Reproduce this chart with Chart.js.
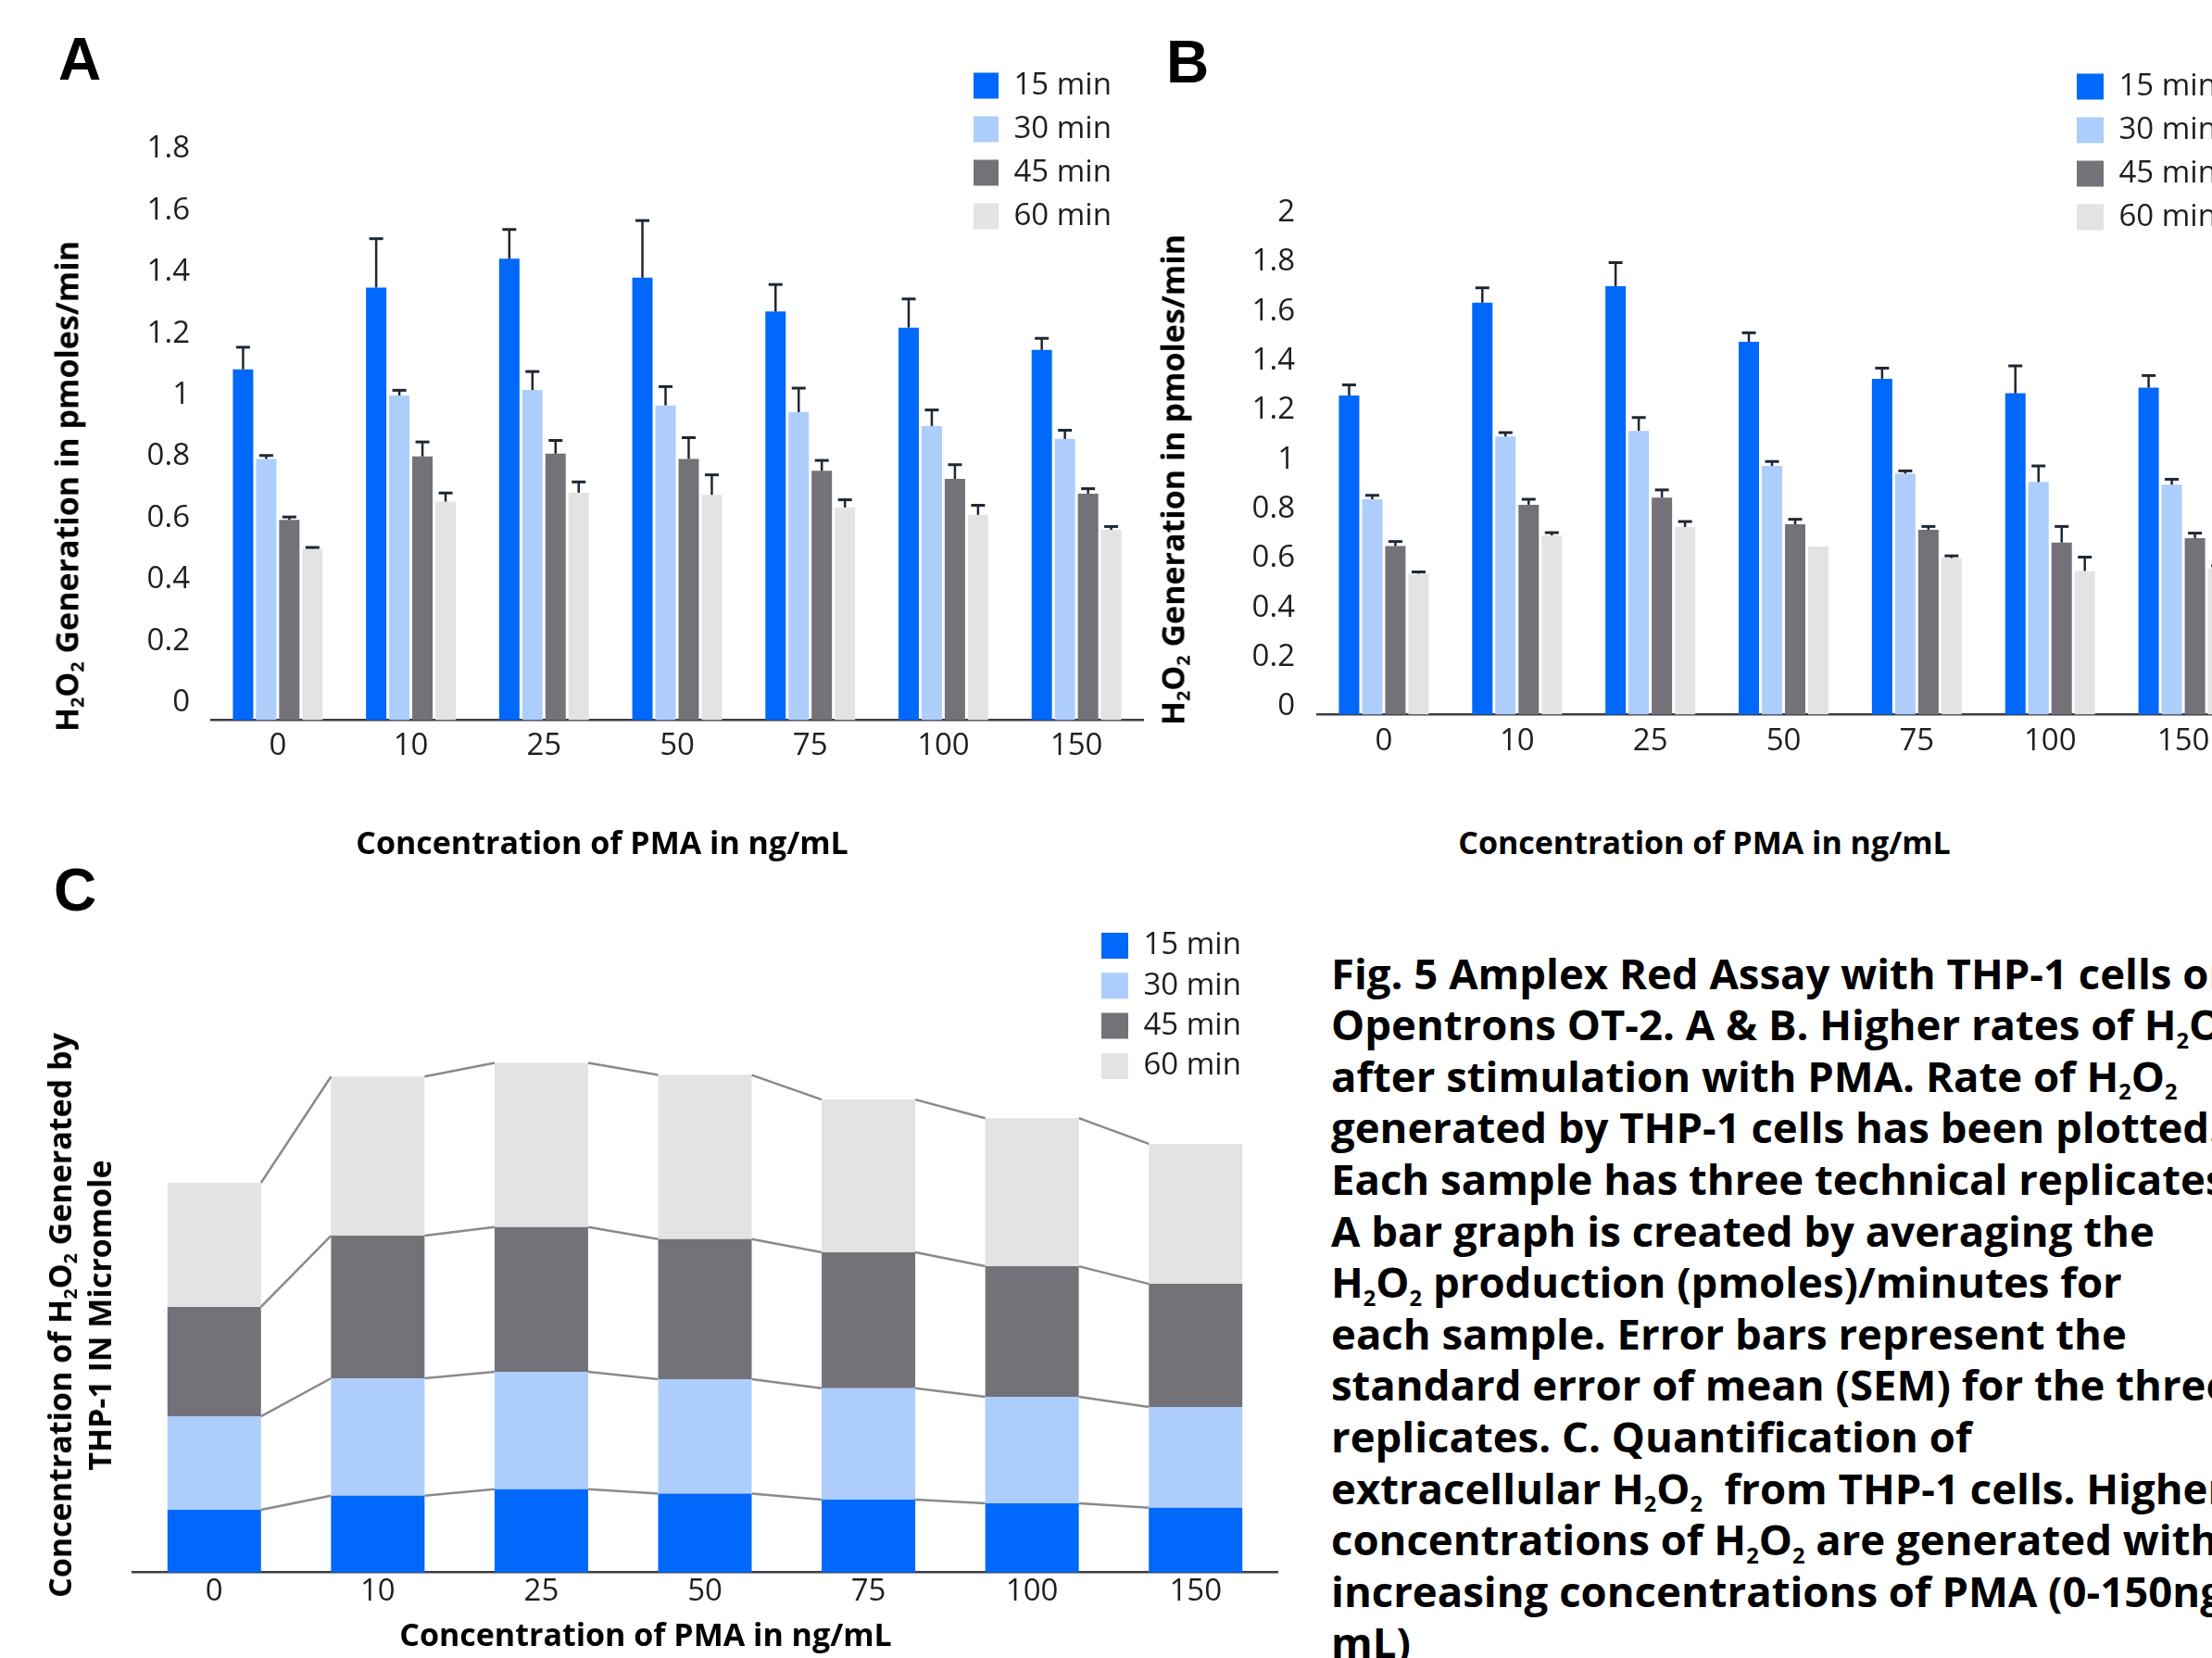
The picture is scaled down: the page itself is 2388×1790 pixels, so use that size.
<!DOCTYPE html>
<html>
<head>
<meta charset="utf-8">
<script src="https://cdn.jsdelivr.net/npm/chart.js@4.4.1/dist/chart.umd.min.js"></script>
<style>
html, body { margin: 0; padding: 0; background: #fff; }
body { width: 2388px; height: 1790px; overflow: hidden; position: relative; font-family: 'Open Sans', sans-serif; color: #000; }
canvas { position: absolute; }
.letter { position: absolute; font-family: 'Liberation Sans', Arial, sans-serif; font-weight: bold; font-size: 64px; line-height: 64px; }
.title { position: absolute; font-weight: 700; font-size: 34px; line-height: 43px; white-space: nowrap; text-align: center; transform: translate(-50%, -50%); }
.ytitle { transform: translate(-50%, -50%) rotate(-90deg); }
.s { font-size: 0.58em; position: relative; top: 0.32em; line-height: 0; }
#caption { position: absolute; left: 1437px; top: 1022.6px; font-weight: 700; font-size: 45.5px; line-height: 55.6px; white-space: nowrap; }
#caption .s { font-size: 0.52em; top: 0.36em; }
</style>
</head>
<body>

<canvas id="chart-a" width="1260" height="860" style="left:0;top:0;width:1260px;height:860px"></canvas>
<canvas id="chart-b" width="1230" height="860" style="left:1230px;top:0;width:1230px;height:860px"></canvas>
<canvas id="chart-c" width="1400" height="860" style="left:0;top:930px;width:1400px;height:860px"></canvas>

<div class="letter" style="left:63px;top:32px">A</div>
<div class="letter" style="left:1259px;top:35px">B</div>
<div class="letter" style="left:58px;top:929px">C</div>

<div class="title ytitle" style="left:72px;top:525px">H<span class="s">2</span>O<span class="s">2</span> Generation in pmoles/min</div>
<div class="title ytitle" style="left:1266px;top:518px">H<span class="s">2</span>O<span class="s">2</span> Generation in pmoles/min</div>
<div class="title ytitle" style="left:86px;top:1420px">Concentration of H<span class="s">2</span>O<span class="s">2</span> Generated by<br>THP-1 IN Micromole</div>

<div class="title" style="left:650px;top:909px">Concentration of PMA in ng/mL</div>
<div class="title" style="left:1840px;top:909px">Concentration of PMA in ng/mL</div>
<div class="title" style="left:697px;top:1764px">Concentration of PMA in ng/mL</div>

<div id="caption">
<div>Fig. 5 Amplex Red Assay with THP-1 cells on</div>
<div>Opentrons OT-2. A &amp; B. Higher rates of H<span class="s">2</span>O<span class="s">2</span></div>
<div>after stimulation with PMA. Rate of H<span class="s">2</span>O<span class="s">2</span></div>
<div>generated by THP-1 cells has been plotted.</div>
<div>Each sample has three technical replicates.</div>
<div>A bar graph is created by averaging the</div>
<div>H<span class="s">2</span>O<span class="s">2</span> production (pmoles)/minutes for</div>
<div>each sample. Error bars represent the</div>
<div>standard error of mean (SEM) for the three</div>
<div>replicates. C. Quantification of</div>
<div>extracellular H<span class="s">2</span>O<span class="s">2</span>&nbsp; from THP-1 cells. Higher</div>
<div>concentrations of H<span class="s">2</span>O<span class="s">2</span> are generated with</div>
<div>increasing concentrations of PMA (0-150ng/</div>
<div>mL)</div>
</div>

<script>
"use strict";

// categories
const doses = ['0', '10', '25', '50', '75', '100', '150'];
const times = ['15 min', '30 min', '45 min', '60 min'];
const colours = ['#0068fa', '#adcdfc', '#737278', '#e3e3e3'];

// A: H2O2 rate (pmoles/min) and SEM
const rateA15 = [1.141, 1.407, 1.501, 1.439, 1.329, 1.277, 1.204];
const rateA30 = [0.850, 1.056, 1.074, 1.024, 1.002, 0.957, 0.915];
const rateA45 = [0.652, 0.858, 0.867, 0.850, 0.811, 0.785, 0.737];
const rateA60 = [0.558, 0.711, 0.740, 0.733, 0.692, 0.668, 0.619];
const semA15 = [0.072, 0.159, 0.095, 0.186, 0.088, 0.093, 0.038];
const semA30 = [0.011, 0.017, 0.060, 0.061, 0.078, 0.052, 0.028];
const semA45 = [0.009, 0.047, 0.043, 0.069, 0.034, 0.046, 0.016];
const semA60 = [0.004, 0.028, 0.035, 0.065, 0.025, 0.031, 0.011];

// B: H2O2 rate (pmoles/min) and SEM
const rateB15 = [1.292, 1.668, 1.735, 1.510, 1.360, 1.301, 1.324];
const rateB30 = [0.872, 1.126, 1.149, 1.007, 0.976, 0.942, 0.931];
const rateB45 = [0.683, 0.850, 0.879, 0.771, 0.748, 0.697, 0.715];
const rateB60 = [0.571, 0.726, 0.760, 0.681, 0.634, 0.582, 0.593];
const semB15 = [0.043, 0.060, 0.095, 0.036, 0.043, 0.111, 0.049];
const semB30 = [0.016, 0.016, 0.054, 0.018, 0.011, 0.065, 0.022];
const semB45 = [0.018, 0.022, 0.031, 0.020, 0.014, 0.065, 0.020];
const semB60 = [0.007, 0.011, 0.022, 0.000, 0.009, 0.056, 0.010];

// C: stacked concentration (no axis in the figure, relative units)
const concC15 = [0.678, 0.829, 0.900, 0.851, 0.786, 0.748, 0.699];
const concC30 = [1.008, 1.268, 1.268, 1.236, 1.203, 1.149, 1.089];
const concC45 = [1.182, 1.539, 1.561, 1.512, 1.469, 1.409, 1.328];
const concC60 = [1.339, 1.718, 1.772, 1.772, 1.648, 1.599, 1.512];

const TEXT = '#1e1e1e';
const AXIS = '#3a3d44';

Chart.defaults.font.family = "'Open Sans', sans-serif";
Chart.defaults.color = TEXT;

// SEM whiskers (upper only, like the original)
const errorBars = {
    id: 'errorBars',
    afterDatasetsDraw(chart) {
        const ctx = chart.ctx;
        const y = chart.scales.y;
        ctx.save();
        ctx.strokeStyle = '#1f2733';
        chart.data.datasets.forEach((ds, i) => {
            if (!ds.errors) return;
            chart.getDatasetMeta(i).data.forEach((bar, j) => {
                const e = ds.errors[j];
                if (!e) return;
                const top = y.getPixelForValue(ds.data[j] + e);
                ctx.lineWidth = 2.5;
                ctx.beginPath();
                ctx.moveTo(bar.x, bar.y);
                ctx.lineTo(bar.x, top);
                ctx.stroke();
                ctx.lineWidth = 3;
                ctx.beginPath();
                ctx.moveTo(bar.x - 7.5, top);
                ctx.lineTo(bar.x + 7.5, top);
                ctx.stroke();
            });
        });
        ctx.restore();
    }
};

// move the chartArea legend to its place over the plot
const legendSpot = {
    id: 'legendSpot',
    beforeDraw(chart, args, opts) {
        const lg = chart.legend;
        if (!lg || opts.left === undefined) return;
        const pad = chart.options.plugins.legend.labels.padding;
        lg.left = opts.left - pad;
        lg.top = opts.top - pad;
    }
};

// series lines joining the stacked segments
const seriesLines = {
    id: 'seriesLines',
    afterDatasetsDraw(chart) {
        const ctx = chart.ctx;
        ctx.save();
        ctx.strokeStyle = '#8a8a8a';
        ctx.lineWidth = 2.5;
        chart.data.datasets.forEach((ds, i) => {
            const bars = chart.getDatasetMeta(i).data;
            for (let j = 0; j < bars.length - 1; j++) {
                const a = bars[j], b = bars[j + 1];
                ctx.beginPath();
                ctx.moveTo(a.x + a.width / 2, a.y);
                ctx.lineTo(b.x - b.width / 2, b.y);
                ctx.stroke();
            }
        });
        ctx.restore();
    }
};

function barSets(values, errors, extra) {
    return values.map((v, i) => Object.assign({
        label: times[i],
        data: v,
        errors: errors ? errors[i] : null,
        backgroundColor: colours[i],
        borderColor: colours[i],
        borderWidth: 0
    }, extra));
}

function rateOptions(o) {
    return {
        responsive: false,
        devicePixelRatio: 1,
        animation: false,
        layout: { padding: { left: 0, top: o.top, right: o.right, bottom: 0 } },
        scales: {
            x: {
                grid: { display: false, drawTicks: false },
                border: { display: true, color: AXIS, width: 2.5 },
                ticks: { font: { size: 33 }, color: TEXT, padding: o.xPad, maxRotation: 0 },
                afterFit: s => { s.height = o.xHeight; }
            },
            y: {
                min: 0,
                max: o.max,
                grid: { display: false, drawTicks: false },
                border: { display: false },
                ticks: {
                    stepSize: 0.2,
                    font: { size: 33 },
                    color: TEXT,
                    padding: o.yPad,
                    labelOffset: o.labelOffset,
                    callback: v => String(+v.toFixed(1))
                },
                afterFit: s => { s.width = o.yWidth; }
            }
        },
        plugins: {
            legend: {
                position: 'chartArea',
                align: 'start',
                labels: {
                    font: { size: 33 },
                    color: TEXT,
                    boxWidth: o.boxWidth,
                    boxHeight: 28,
                    padding: 14
                }
            },
            legendSpot: { left: o.legendX, top: o.legendY },
            tooltip: { enabled: false }
        }
    };
}

new Chart(document.getElementById('chart-a'), {
    type: 'bar',
    data: {
        labels: doses,
        datasets: barSets([rateA15, rateA30, rateA45, rateA60], [semA15, semA30, semA45, semA60],
            { barPercentage: 0.88, categoryPercentage: 0.695 })
    },
    options: rateOptions({
        top: 180, right: 26, max: 1.8, yWidth: 228, yPad: 23, labelOffset: -19,
        xHeight: 82.4, xPad: 8, boxWidth: 27, legendX: 1051, legendY: 76
    }),
    plugins: [errorBars, legendSpot]
});

new Chart(document.getElementById('chart-b'), {
    type: 'bar',
    data: {
        labels: doses,
        datasets: barSets([rateB15, rateB30, rateB45, rateB60], [semB15, semB30, semB45, semB60],
            { barPercentage: 0.88, categoryPercentage: 0.695 })
    },
    options: rateOptions({
        top: 238.2, right: 31, max: 2, yWidth: 192, yPad: 24, labelOffset: -8.6,
        xHeight: 88.4, xPad: 9, boxWidth: 29, legendX: 1012, legendY: 77
    }),
    plugins: [errorBars, legendSpot]
});

new Chart(document.getElementById('chart-c'), {
    type: 'bar',
    data: {
        labels: doses,
        datasets: barSets([concC15, concC30, concC45, concC60], null,
            { barPercentage: 0.572, categoryPercentage: 1 })
    },
    options: {
        responsive: false,
        devicePixelRatio: 1,
        animation: false,
        layout: { padding: { left: 143, top: 167.7, right: 21, bottom: 0 } },
        scales: {
            x: {
                stacked: true,
                grid: { display: false, drawTicks: false },
                border: { display: true, color: AXIS, width: 2.5 },
                ticks: { font: { size: 33 }, color: TEXT, padding: 1, maxRotation: 0 },
                afterFit: s => { s.height = 92.3; }
            },
            y: {
                stacked: true,
                display: false,
                min: 0,
                max: 6
            }
        },
        plugins: {
            legend: {
                position: 'chartArea',
                align: 'start',
                labels: {
                    font: { size: 33 },
                    color: TEXT,
                    boxWidth: 29,
                    boxHeight: 28,
                    padding: 10.3
                }
            },
            legendSpot: { left: 1189, top: 74.5 },
            tooltip: { enabled: false }
        }
    },
    plugins: [seriesLines, legendSpot]
});
</script>
</body>
</html>
